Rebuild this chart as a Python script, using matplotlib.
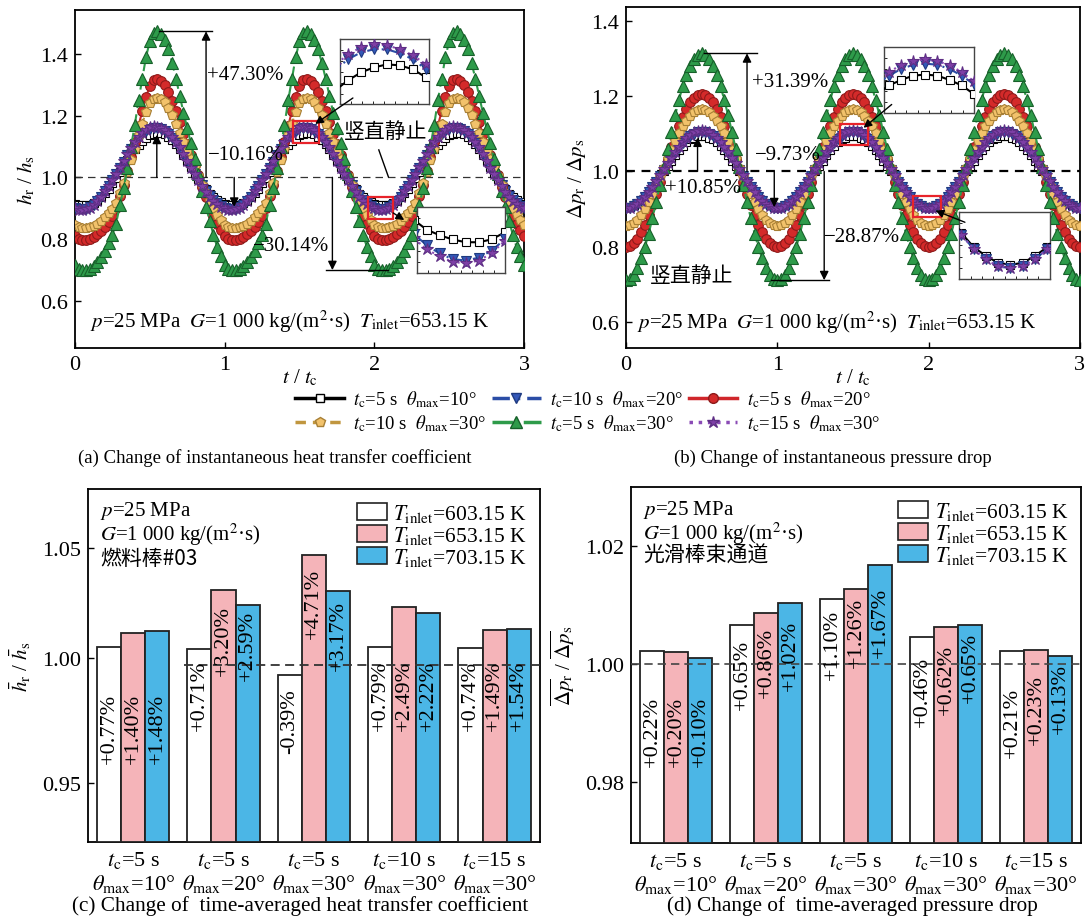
import numpy as np
import matplotlib
matplotlib.use('Agg')
import matplotlib.pyplot as plt
from matplotlib.lines import Line2D
from matplotlib.patches import Rectangle, Patch

plt.rcParams['font.family'] = ['Liberation Serif', 'Noto Sans CJK SC']
plt.rcParams['mathtext.fontset'] = 'stix'
plt.rcParams['font.size'] = 14
plt.rcParams['axes.linewidth'] = 1.3

SERIF = 'Liberation Serif'
CJK = ['Noto Sans CJK SC', 'Liberation Serif']

# ---- instantaneous curves, one period of t/tc (step 0.025) ----
T_STEP = 0.025
N_PERIODS = 3

series_labels = [r'$t_{\rm c}$=5 s  $\theta_{\rm max}$=10°',
                 r'$t_{\rm c}$=10 s  $\theta_{\rm max}$=20°',
                 r'$t_{\rm c}$=5 s  $\theta_{\rm max}$=20°',
                 r'$t_{\rm c}$=10 s  $\theta_{\rm max}$=30°',
                 r'$t_{\rm c}$=5 s  $\theta_{\rm max}$=30°',
                 r'$t_{\rm c}$=15 s  $\theta_{\rm max}$=30°']

# heat transfer coefficient ratio h_r/h_s
h_5s_10deg = [0.915, 0.912, 0.910, 0.910, 0.912, 0.917, 0.925, 0.936, 0.949, 0.964,
              0.981, 0.999, 1.018, 1.037, 1.056, 1.074, 1.091, 1.106, 1.119, 1.129,
              1.137, 1.142, 1.145, 1.144, 1.140, 1.132, 1.121, 1.107, 1.091, 1.073,
              1.054, 1.034, 1.014, 0.995, 0.977, 0.961, 0.947, 0.935, 0.926, 0.919]
h_10s_20deg = [0.902, 0.898, 0.897, 0.899, 0.904, 0.912, 0.924, 0.938, 0.955, 0.973,
               0.991, 1.011, 1.031, 1.051, 1.071, 1.091, 1.109, 1.125, 1.139, 1.150,
               1.157, 1.160, 1.160, 1.156, 1.150, 1.140, 1.128, 1.112, 1.094, 1.074,
               1.053, 1.032, 1.012, 0.992, 0.974, 0.957, 0.941, 0.927, 0.916, 0.908]
h_5s_20deg = [0.809, 0.802, 0.799, 0.798, 0.801, 0.807, 0.816, 0.827, 0.841, 0.857,
              0.876, 0.900, 0.940, 0.977, 1.020, 1.067, 1.114, 1.168, 1.214, 1.261,
              1.295, 1.314, 1.317, 1.312, 1.298, 1.278, 1.248, 1.214, 1.178, 1.141,
              1.107, 1.074, 1.040, 1.007, 0.970, 0.936, 0.906, 0.876, 0.849, 0.829]
h_10s_30deg = [0.845, 0.839, 0.837, 0.836, 0.838, 0.843, 0.850, 0.859, 0.871, 0.884,
               0.899, 0.918, 0.951, 0.981, 1.016, 1.055, 1.093, 1.136, 1.174, 1.213,
               1.240, 1.255, 1.258, 1.253, 1.243, 1.226, 1.202, 1.174, 1.144, 1.114,
               1.087, 1.060, 1.033, 1.005, 0.975, 0.948, 0.924, 0.899, 0.877, 0.861]
h_5s_30deg = [0.715, 0.705, 0.700, 0.699, 0.703, 0.712, 0.725, 0.742, 0.763, 0.787,
              0.815, 0.850, 0.910, 0.965, 1.030, 1.100, 1.170, 1.250, 1.320, 1.390,
              1.440, 1.468, 1.473, 1.465, 1.445, 1.415, 1.370, 1.320, 1.265, 1.210,
              1.160, 1.110, 1.060, 1.010, 0.955, 0.905, 0.860, 0.815, 0.775, 0.745]
h_15s_30deg = [0.900, 0.896, 0.895, 0.897, 0.902, 0.911, 0.923, 0.938, 0.955, 0.973,
               0.992, 1.012, 1.033, 1.054, 1.075, 1.095, 1.113, 1.130, 1.144, 1.155,
               1.162, 1.165, 1.164, 1.160, 1.154, 1.145, 1.132, 1.116, 1.097, 1.076,
               1.054, 1.032, 1.011, 0.991, 0.972, 0.954, 0.938, 0.924, 0.913, 0.905]

# pressure drop ratio dp_r/dp_s
dp_5s_10deg = [0.905, 0.906, 0.910, 0.915, 0.923, 0.933, 0.944, 0.957, 0.971, 0.985,
               1.000, 1.015, 1.029, 1.043, 1.056, 1.067, 1.077, 1.085, 1.090, 1.094,
               1.095, 1.094, 1.090, 1.085, 1.077, 1.067, 1.056, 1.043, 1.029, 1.015,
               1.000, 0.985, 0.971, 0.957, 0.944, 0.933, 0.923, 0.915, 0.910, 0.906]
dp_10s_20deg = [0.903, 0.904, 0.908, 0.914, 0.922, 0.933, 0.945, 0.958, 0.973, 0.988,
                1.004, 1.020, 1.035, 1.050, 1.063, 1.075, 1.086, 1.094, 1.100, 1.104,
                1.105, 1.104, 1.100, 1.094, 1.086, 1.075, 1.063, 1.050, 1.035, 1.020,
                1.004, 0.988, 0.973, 0.958, 0.945, 0.933, 0.922, 0.914, 0.908, 0.904]
dp_5s_20deg = [0.799, 0.802, 0.809, 0.821, 0.838, 0.859, 0.883, 0.910, 0.940, 0.971,
               1.003, 1.034, 1.065, 1.095, 1.122, 1.146, 1.167, 1.184, 1.196, 1.203,
               1.206, 1.203, 1.196, 1.184, 1.167, 1.146, 1.122, 1.095, 1.065, 1.034,
               1.003, 0.971, 0.940, 0.910, 0.883, 0.859, 0.838, 0.821, 0.809, 0.802]
dp_10s_30deg = [0.855, 0.857, 0.863, 0.872, 0.885, 0.900, 0.919, 0.940, 0.962, 0.986,
                1.010, 1.034, 1.058, 1.080, 1.101, 1.120, 1.135, 1.148, 1.157, 1.163,
                1.165, 1.163, 1.157, 1.148, 1.135, 1.120, 1.101, 1.080, 1.058, 1.034,
                1.010, 0.986, 0.962, 0.940, 0.919, 0.900, 0.885, 0.872, 0.863, 0.857]
dp_5s_30deg = [0.711, 0.715, 0.726, 0.744, 0.769, 0.799, 0.835, 0.876, 0.919, 0.965,
               1.013, 1.060, 1.106, 1.149, 1.190, 1.226, 1.256, 1.281, 1.299, 1.310,
               1.314, 1.310, 1.299, 1.281, 1.256, 1.226, 1.190, 1.149, 1.106, 1.060,
               1.013, 0.965, 0.919, 0.876, 0.835, 0.799, 0.769, 0.744, 0.726, 0.715]
dp_15s_30deg = [0.903, 0.904, 0.908, 0.914, 0.922, 0.933, 0.945, 0.959, 0.974, 0.990,
                1.006, 1.022, 1.037, 1.052, 1.066, 1.078, 1.089, 1.097, 1.104, 1.107,
                1.109, 1.107, 1.104, 1.097, 1.089, 1.078, 1.066, 1.052, 1.037, 1.022,
                1.006, 0.990, 0.974, 0.959, 0.945, 0.933, 0.922, 0.914, 0.908, 0.904]

h_series = [h_5s_10deg, h_10s_20deg, h_5s_20deg, h_10s_30deg, h_5s_30deg, h_15s_30deg]
dp_series = [dp_5s_10deg, dp_10s_20deg, dp_5s_20deg, dp_10s_30deg, dp_5s_30deg, dp_15s_30deg]

# ---- time-averaged changes (%) ----
case_labels = [r'$t_{\rm c}$=5 s' + '\n' + r'$\theta_{\rm max}$=10°',
               r'$t_{\rm c}$=5 s' + '\n' + r'$\theta_{\rm max}$=20°',
               r'$t_{\rm c}$=5 s' + '\n' + r'$\theta_{\rm max}$=30°',
               r'$t_{\rm c}$=10 s' + '\n' + r'$\theta_{\rm max}$=30°',
               r'$t_{\rm c}$=15 s' + '\n' + r'$\theta_{\rm max}$=30°']
inlet_labels = [r'$T_{\rm inlet}$=603.15 K', r'$T_{\rm inlet}$=653.15 K', r'$T_{\rm inlet}$=703.15 K']

h_avg_603 = [0.77, 0.71, -0.39, 0.79, 0.74]
h_avg_653 = [1.40, 3.20, 4.71, 2.49, 1.49]
h_avg_703 = [1.48, 2.59, 3.17, 2.22, 1.54]
dp_avg_603 = [0.22, 0.65, 1.10, 0.46, 0.21]
dp_avg_653 = [0.20, 0.86, 1.26, 0.62, 0.23]
dp_avg_703 = [0.10, 1.02, 1.67, 0.65, 0.13]

# ---- styles ----
styles = [dict(color='k', marker='s', mfc='white', mec='k', ms=6, ls='-'),
          dict(color='#2B4DA6', marker='v', mfc='#3458B8', mec='#1E3A80', ms=7, ls=(0, (5, 2, 1, 2))),
          dict(color='#D0262B', marker='o', mfc='#D42A2A', mec='#8E1A1A', ms=7, ls='-'),
          dict(color='#C0963F', marker='p', mfc='#F2C26B', mec='#A77F35', ms=7.5, ls=(0, (3, 2))),
          dict(color='#2E9B4A', marker='^', mfc='#2E9B4A', mec='#17602A', ms=8, ls=(0, (6, 3))),
          dict(color='#8A4BB5', marker='*', mfc='#7E3FA6', mec='#5E2E85', ms=9, ls=':')]
bar_colors = ['white', '#F5B4B9', '#4BB6E6']
RED = '#E8232A'


def tile_period(vals):
    v = np.asarray(vals)
    return np.append(np.tile(v, N_PERIODS), v[0])


def draw_curves(ax, series):
    for i, vals in enumerate(series):
        y = tile_period(vals)
        x = np.arange(len(y)) * T_STEP
        st = styles[i]
        ax.plot(x, y, color=st['color'], ls=st['ls'], lw=1.5, marker=st['marker'],
                mfc=st['mfc'], mec=st['mec'], ms=st['ms'], mew=0.8, zorder=3 + i)


def vert_arrow(ax, x, y0, y1):
    ax.annotate('', xy=(x, y1), xytext=(x, y0),
                arrowprops=dict(arrowstyle='-|>', color='k', lw=1.0, mutation_scale=13,
                                shrinkA=0, shrinkB=0), zorder=20)


def add_inset(ax, bounds, xlim, ylim, series):
    axin = ax.inset_axes(bounds, transform=ax.transData, zorder=15)
    draw_curves(axin, series)
    axin.set_xlim(xlim)
    axin.set_ylim(ylim)
    axin.set_xticks(np.linspace(xlim[0], xlim[1], 9)[1:-1])
    axin.set_yticks(np.linspace(ylim[0], ylim[1], 7)[1:-1])
    axin.tick_params(direction='in', length=2, width=0.6, labelbottom=False, labelleft=False)
    for s in axin.spines.values():
        s.set_color('#444')
        s.set_linewidth(1.0)
    return axin


def style_line_axes(ax, ylim, yticks):
    ax.set_xlim(0, 3)
    ax.set_ylim(*ylim)
    ax.set_xticks([0, 1, 2, 3])
    ax.set_xticklabels(['0', '1', '2', '3'], fontfamily=SERIF)
    ax.set_yticks(yticks)
    ax.set_yticklabels(['%.1f' % v for v in yticks], fontfamily=SERIF)
    ax.tick_params(direction='in', length=4, width=1, labelsize=16, pad=5)
    ax.set_xlabel(r'$t$ / $t_{\rm c}$', fontsize=15, labelpad=-5)


fig = plt.figure(figsize=(10.86, 9.2), dpi=100)

# ================= (a) instantaneous heat transfer coefficient =================
ax = fig.add_axes([0.069, 0.6207, 0.4135, 0.3674])
draw_curves(ax, h_series)
style_line_axes(ax, (0.448, 1.542), [0.6, 0.8, 1.0, 1.2, 1.4])
ax.set_ylabel(r'$h_{\rm r}$ / $h_{\rm s}$', fontsize=15, labelpad=2)
ax.axhline(1.0, color='#333', lw=0.9, ls=(0, (6, 4)), zorder=2)

ax.plot([0.56, 0.915], [1.473, 1.473], color='k', lw=1.0, zorder=20)
vert_arrow(ax, 0.876, 1.0, 1.473)
ax.text(0.88, 1.333, '+47.30%', fontsize=15, va='center', ha='left', zorder=21)
vert_arrow(ax, 0.547, 1.0, 1.138)
ax.text(0.887, 1.073, '\u221210.16%', fontsize=15, va='center', ha='left', zorder=21)
vert_arrow(ax, 1.064, 1.0, 0.905)
ax.text(1.19, 0.78, '\u221230.14%', fontsize=15, va='center', ha='left', zorder=21)
vert_arrow(ax, 1.72, 1.0, 0.70)
ax.plot([1.68, 2.09], [0.70, 0.70], color='k', lw=1.0, zorder=20)

ax.add_patch(Rectangle((1.46, 1.111), 0.17, 0.072, fill=False, ec=RED, lw=1.6, zorder=22))
ax.add_patch(Rectangle((1.956, 0.865), 0.17, 0.073, fill=False, ec=RED, lw=1.6, zorder=22))
add_inset(ax, [1.772, 1.236, 0.591, 0.211], (1.46, 1.63), (1.105, 1.170), h_series)
add_inset(ax, [2.283, 0.690, 0.591, 0.214], (1.956, 2.126), (0.888, 0.935), h_series)
ax.annotate('', xy=(1.605, 1.173), xytext=(1.857, 1.257),
            arrowprops=dict(arrowstyle='-|>', color='k', lw=1.0, mutation_scale=12,
                            shrinkA=0, shrinkB=0), zorder=23)
ax.annotate('', xy=(2.20, 0.862), xytext=(2.126, 0.885),
            arrowprops=dict(arrowstyle='-|>', color='k', lw=1.0, mutation_scale=12,
                            shrinkA=0, shrinkB=0), zorder=23)
ax.text(1.80, 1.149, '竖直静止', family=CJK, fontsize=15, va='center', ha='left', zorder=21)
ax.plot([2.03, 2.094], [1.089, 1.002], color='k', lw=1.0, zorder=20)
ax.text(0.103, 0.535, r'$p$=25 MPa  $G$=1 000 kg/(m$^{2}$·s)  $T_{\rm inlet}$=653.15 K',
        fontsize=15, va='center', ha='left', zorder=21)

# ================= (b) instantaneous pressure drop =================
ax = fig.add_axes([0.5764, 0.6207, 0.418, 0.3706])
draw_curves(ax, dp_series)
style_line_axes(ax, (0.531, 1.437), [0.6, 0.8, 1.0, 1.2, 1.4])
ax.set_ylabel(r'$\Delta p_{\rm r}$ / $\Delta p_{\rm s}$', fontsize=15, labelpad=2)
ax.axhline(1.0, color='k', lw=1.6, ls=(0, (4, 3)), zorder=2)

ax.plot([0.515, 0.868], [1.314, 1.314], color='k', lw=1.0, zorder=20)
vert_arrow(ax, 0.80, 1.0, 1.314)
ax.text(0.83, 1.24, '+31.39%', fontsize=15, va='center', ha='left', zorder=21)
vert_arrow(ax, 0.473, 1.0, 1.09)
ax.text(0.255, 0.958, '+10.85%', fontsize=15, va='center', ha='left', zorder=21)
ax.text(0.85, 1.046, '\u22129.73%', fontsize=15, va='center', ha='left', zorder=21)
vert_arrow(ax, 0.98, 1.0, 0.905)
vert_arrow(ax, 1.31, 1.0, 0.711)
ax.plot([0.96, 1.34], [0.711, 0.711], color='k', lw=1.0, zorder=20)
ax.text(1.31, 0.826, '\u221228.87%', fontsize=15, va='center', ha='left', zorder=21)
ax.text(0.155, 0.724, '竖直静止', family=CJK, fontsize=15, va='center', ha='left', zorder=21)

ax.add_patch(Rectangle((1.415, 1.07), 0.185, 0.057, fill=False, ec=RED, lw=1.6, zorder=22))
ax.add_patch(Rectangle((1.896, 0.878), 0.184, 0.058, fill=False, ec=RED, lw=1.6, zorder=22))
add_inset(ax, [1.705, 1.156, 0.595, 0.174], (1.415, 1.60), (1.06, 1.12), dp_series)
add_inset(ax, [2.204, 0.715, 0.596, 0.177], (1.896, 2.08), (0.897, 0.935), dp_series)
ax.annotate('', xy=(1.57, 1.116), xytext=(1.756, 1.178),
            arrowprops=dict(arrowstyle='-|>', color='k', lw=1.0, mutation_scale=12,
                            shrinkA=0, shrinkB=0), zorder=23)
ax.annotate('', xy=(2.046, 0.896), xytext=(2.24, 0.865),
            arrowprops=dict(arrowstyle='-|>', color='k', lw=1.0, mutation_scale=12,
                            shrinkA=0, shrinkB=0), zorder=23)
ax.text(0.074, 0.601, r'$p$=25 MPa  $G$=1 000 kg/(m$^{2}$·s)  $T_{\rm inlet}$=653.15 K',
        fontsize=15, va='center', ha='left', zorder=21)

# legend shared by (a) and (b): row-wise order -> reorder for column filling
handles = []
for i in range(6):
    st = styles[i]
    handles.append(Line2D([], [], color=st['color'], ls=st['ls'], lw=2.5, marker=st['marker'],
                          mfc=st['mfc'], mec=st['mec'], ms=st['ms']))
order = [0, 3, 1, 4, 2, 5]
fig.legend([handles[i] for i in order], [series_labels[i] for i in order],
           loc='center', bbox_to_anchor=(0.541, 0.5525), ncol=3, frameon=False,
           fontsize=13.5, handlelength=2.6, handletextpad=0.5, columnspacing=0.3,
           labelspacing=0.15, borderpad=0.0)

fig.text(0.253, 0.502, '(a) Change of instantaneous heat transfer coefficient',
         fontsize=13.5, ha='center', va='center')
fig.text(0.767, 0.502, '(b) Change of instantaneous pressure drop',
         fontsize=13.5, ha='center', va='center')

# ================= bar panels =================
BAR_W = 0.267
x_groups = np.arange(len(case_labels))

# vertical anchor (bottom) of the rotated value labels, per temperature and case
h_label_y = [[0.9585, 0.9725, 0.963, 0.9725, 0.9725],
             [0.9585, 0.996, 1.0115, 0.9725, 0.9725],
             [0.9585, 0.9938, 0.9982, 0.9725, 0.9725]]
dp_label_y = [[0.98267, 0.99236, 0.99736, 0.98942, 0.98425],
              [0.98267, 0.99442, 0.99941, 0.99148, 0.98648],
              [0.98267, 0.99559, 1.00118, 0.99354, 0.98825]]


def bar_panel(ax, pct_sets, label_y, ylim, yticks, yticklabels):
    base = ylim[0]
    for k, pct in enumerate(pct_sets):
        vals = 1 + np.asarray(pct) / 100.0
        xs = x_groups + (k - 1) * BAR_W
        ax.bar(xs, vals - base, bottom=base, width=BAR_W, color=bar_colors[k],
               edgecolor='#222', linewidth=1.3, zorder=3)
        for xi, p, ly in zip(xs, pct, label_y[k]):
            ax.text(xi, ly, '%+.2f%%' % p, rotation=90, ha='center', va='bottom',
                    fontsize=16, zorder=6)
    ax.set_xlim(-0.5, 4.5)
    ax.set_ylim(*ylim)
    ax.set_xticks(x_groups)
    ax.set_xticklabels(case_labels, fontsize=16, linespacing=1.1)
    ax.set_yticks(yticks)
    ax.set_yticklabels(yticklabels, fontfamily=SERIF)
    ax.tick_params(axis='x', length=0, pad=5)
    ax.tick_params(axis='y', direction='in', length=4, width=1, labelsize=16, pad=5)
    ax.legend([Patch(fc=c, ec='#222', lw=1.2) for c in bar_colors], inlet_labels,
              loc='upper right', frameon=False, fontsize=15.5, handlelength=1.4,
              handleheight=0.9, labelspacing=0.0, handletextpad=0.3,
              borderaxespad=0.2)


# (c) time-averaged heat transfer coefficient; the 1.00 tick sits slightly above the dashed 1.0 line
ax = fig.add_axes([0.081, 0.0837, 0.416, 0.3837])
bar_panel(ax, [h_avg_603, h_avg_653, h_avg_703], h_label_y, (0.925, 1.075),
          [0.95, 1.003, 1.05], ['0.95', '1.00', '1.05'])
ax.set_ylabel(r'$\bar{h}_{\rm r}$ / $\bar{h}_{\rm s}$', fontsize=15, labelpad=6)
ax.plot([0.56, 4.5], [1.0, 1.0], color='#333', lw=1.3, ls=(0, (5, 3)), zorder=5)
ax.text(0.027, 0.94, r'$p$=25 MPa', transform=ax.transAxes, fontsize=15, va='center')
ax.text(0.027, 0.873, r'$G$=1 000 kg/(m$^{2}$·s)', transform=ax.transAxes, fontsize=15, va='center')
ax.text(0.027, 0.805, '燃料棒#03', transform=ax.transAxes, family=CJK, fontsize=15, va='center')

# (d) time-averaged pressure drop
ax = fig.add_axes([0.581, 0.0826, 0.4144, 0.387])
bar_panel(ax, [dp_avg_603, dp_avg_653, dp_avg_703], dp_label_y, (0.9697, 1.0299),
          [0.98, 1.00, 1.02], ['0.98', '1.00', '1.02'])
ax.set_ylabel(r'$\overline{\Delta p}_{\rm r}$ / $\overline{\Delta p}_{\rm s}$', fontsize=15, labelpad=6)
ax.axhline(1.0, color='#444', lw=1.2, ls=(0, (5, 3)), zorder=5)
ax.text(0.027, 0.938, r'$p$=25 MPa', transform=ax.transAxes, fontsize=15, va='center')
ax.text(0.027, 0.871, r'$G$=1 000 kg/(m$^{2}$·s)', transform=ax.transAxes, fontsize=15, va='center')
ax.text(0.027, 0.809, '光滑棒束通道', transform=ax.transAxes, family=CJK, fontsize=15, va='center')

fig.text(0.276, 0.0150, '(c) Change of  time-averaged heat transfer coefficient',
         fontsize=15.3, ha='center', va='center')
fig.text(0.785, 0.0150, '(d) Change of  time-averaged pressure drop',
         fontsize=15.3, ha='center', va='center')

fig.savefig('out.png', dpi=100)
